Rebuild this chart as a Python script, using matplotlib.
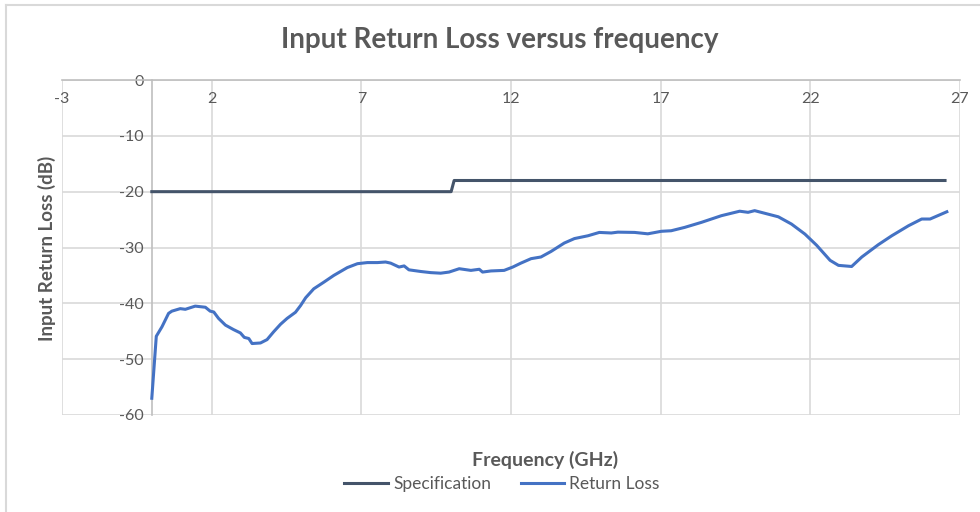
import numpy as np
import matplotlib.pyplot as plt
from matplotlib.lines import Line2D

plt.rcParams['font.family'] = ['Lato', 'DejaVu Sans']
plt.rcParams['axes.unicode_minus'] = False

# Specification mask (GHz, dB)
spec_f = [0.0, 10.0, 10.1, 26.5]
spec_db = [-20, -20, -18, -18]

rl_f = [0.0, 0.15, 0.34, 0.56, 0.67, 0.95, 1.12, 1.45, 1.79, 1.95, 2.07, 2.23,
        2.46, 2.73, 2.96, 3.09, 3.24, 3.35, 3.63, 3.85, 4.07, 4.3, 4.52, 4.8,
        4.97, 5.14, 5.41, 5.75, 6.08, 6.53, 6.87, 7.2, 7.54, 7.81, 7.98, 8.26,
        8.43, 8.59, 8.99, 9.32, 9.65, 9.93, 10.27, 10.66, 10.94, 11.05, 11.33,
        11.77, 12.06, 12.33, 12.67, 13.0, 13.34, 13.78, 14.12, 14.57, 14.95,
        15.35, 15.57, 16.13, 16.57, 17.02, 17.35, 17.8, 18.36, 19.03, 19.64,
        19.92, 20.14, 20.93, 21.37, 21.82, 22.21, 22.66, 22.94, 23.38, 23.72,
        24.27, 24.72, 25.28, 25.72, 26.0, 26.56]
rl_db = [-57.0, -45.9, -44.2, -41.8, -41.4, -40.95, -41.07, -40.5, -40.7, -41.4,
         -41.55, -42.7, -43.9, -44.7, -45.3, -46.1, -46.3, -47.2, -47.1, -46.5,
         -45.1, -43.75, -42.7, -41.6, -40.4, -39.0, -37.4, -36.2, -35.0, -33.6,
         -32.9, -32.7, -32.7, -32.6, -32.8, -33.5, -33.3, -34.0, -34.3, -34.5,
         -34.6, -34.4, -33.8, -34.1, -33.9, -34.4, -34.2, -34.1, -33.5, -32.8,
         -32.0, -31.7, -30.7, -29.2, -28.4, -27.9, -27.3, -27.4, -27.25, -27.3,
         -27.55, -27.1, -27.0, -26.4, -25.5, -24.3, -23.5, -23.7, -23.4, -24.5,
         -25.8, -27.6, -29.6, -32.3, -33.2, -33.4, -31.7, -29.5, -27.9, -26.1,
         -24.9, -24.9, -23.6]

xticks = [-3, 2, 7, 12, 17, 22, 27]
yticks = [0, -10, -20, -30, -40, -50, -60]

grey = '#595959'
fig = plt.figure(figsize=(9.8, 5.12), dpi=100)
ax = fig.add_axes([62/980, 1-415/512, (960-62)/980, (415-80)/512])

ax.plot(spec_f, spec_db, color='#44546A', lw=2.2, label='Specification', zorder=3)
ax.plot(rl_f, rl_db, color='#4472C4', lw=2.2, label='Return Loss', zorder=3)

ax.set_xlim(-3, 27)
ax.set_ylim(-60, 0)
ax.set_xticks(xticks)
ax.set_yticks(yticks)
ax.grid(True, color='#d9d9d9', lw=1.2, zorder=0)

for s in ['right', 'bottom']:
    ax.spines[s].set_visible(False)
ax.spines['top'].set_color('#bfbfbf')
ax.spines['top'].set_linewidth(1.2)
ax.spines['left'].set_position(('data', 0))
ax.spines['left'].set_color('#bfbfbf')
ax.spines['left'].set_linewidth(1.2)

ax.xaxis.tick_top()
ax.tick_params(axis='x', length=0, pad=-19, labelsize=11.5, colors=grey)
ax.tick_params(axis='y', length=0, pad=6, labelsize=11.5, colors=grey)

fig.text(0.51, 1-40/512, 'Input Return Loss versus frequency', ha='center',
         va='center', fontsize=20, fontweight='bold', color=grey)
fig.text(545/980, 1-460/512, 'Frequency (GHz)', ha='center', va='center',
         fontsize=14, fontweight='bold', color=grey)
fig.text(47/980, 1-248/512, 'Input Return Loss (dB)', ha='center', va='center',
         rotation=90, fontsize=13.5, fontweight='bold', color=grey)

fig.legend(loc='center', bbox_to_anchor=(502/980, 1-484/512), ncol=2,
           frameon=False, fontsize=12.5, labelcolor=grey, handlelength=2.5,
           columnspacing=1.7, handletextpad=0.3)

# chart area border
fig.add_artist(Line2D([6/980, 1], [1-5/512, 1-5/512], color='#d9d9d9', lw=1.5))
fig.add_artist(Line2D([6/980, 6/980], [0, 1-5/512], color='#d9d9d9', lw=1.5))

fig.savefig('out.png', dpi=100)
